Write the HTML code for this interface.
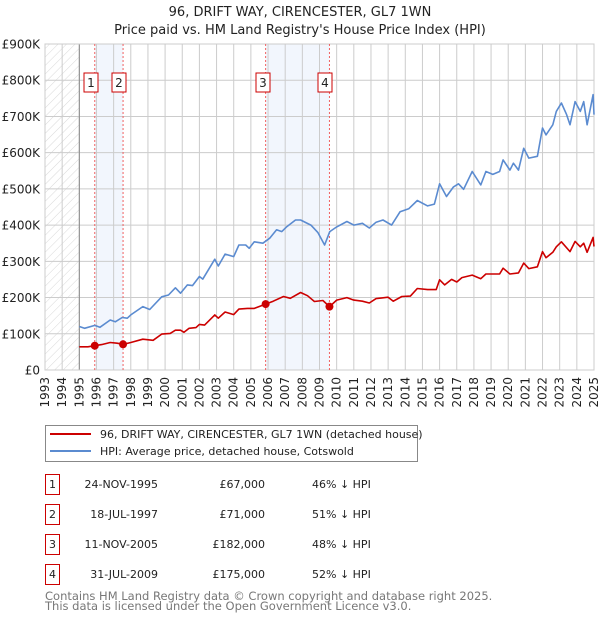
<!DOCTYPE html>
<html><head><meta charset="utf-8"><style>
body{margin:0;background:#fff;font-family:"Liberation Sans","DejaVu Sans",sans-serif;}
#wrap{position:relative;width:600px;height:620px;overflow:hidden;}
svg text{font-family:"DejaVu Sans","Liberation Sans",sans-serif;}
</style></head><body><div id="wrap">
<svg id="svg" width="600" height="620"></svg>
</div>
<script>
const hpiYears=[1995.0,1995.3,1995.9,1996.2,1996.8,1997.1,1997.5,1997.8,1998.0,1998.7,1999.1,1999.8,2000.2,2000.6,2000.9,2001.3,2001.6,2002.0,2002.2,2002.9,2003.1,2003.5,2004.0,2004.3,2004.7,2004.9,2005.2,2005.7,2006.1,2006.5,2006.8,2007.1,2007.6,2007.9,2008.5,2008.9,2009.3,2009.6,2010.0,2010.6,2011.0,2011.5,2011.9,2012.3,2012.7,2013.2,2013.7,2014.2,2014.7,2015.3,2015.7,2016.0,2016.4,2016.8,2017.1,2017.4,2017.9,2018.4,2018.7,2019.1,2019.5,2019.7,2020.1,2020.3,2020.6,2020.9,2021.2,2021.7,2022.0,2022.2,2022.6,2022.8,2023.1,2023.4,2023.6,2023.9,2024.2,2024.4,2024.6,2024.95,2025.0];
const hpiValues=[120,115,123,118,138,133,145,143,152,175,167,202,207,227,212,235,233,258,251,306,287,320,313,345,345,336,354,350,364,387,382,396,414,414,400,380,345,382,395,410,400,405,392,408,414,400,437,445,468,453,458,514,479,505,514,499,548,511,548,540,548,580,552,571,552,612,585,590,668,649,677,714,737,705,677,741,714,741,677,760,705];
const paidYears=[1995.0,1995.5,1995.9,1996.3,1996.8,1997.2,1997.55,1998.0,1998.7,1999.3,1999.8,2000.3,2000.6,2000.9,2001.1,2001.4,2001.8,2002.0,2002.3,2002.9,2003.1,2003.5,2004.0,2004.3,2004.8,2005.2,2005.86,2006.3,2006.9,2007.3,2007.9,2008.3,2008.7,2009.2,2009.58,2010.0,2010.6,2011.0,2011.5,2011.9,2012.3,2013.0,2013.3,2013.8,2014.3,2014.7,2015.3,2015.8,2016.0,2016.3,2016.7,2017.0,2017.3,2017.9,2018.4,2018.7,2019.5,2019.7,2020.1,2020.6,2020.9,2021.2,2021.7,2022.0,2022.2,2022.6,2022.8,2023.1,2023.6,2023.9,2024.2,2024.4,2024.6,2024.95,2025.0];
const paidValues=[64,64,67,70,76,74,71,76,85,82,99,101,110,110,104,115,117,126,124,152,143,160,153,168,170,170,182,190,203,198,214,205,189,192,175,193,200,193,190,185,197,201,190,203,204,225,222,222,249,235,250,243,255,262,252,265,265,281,265,268,295,280,285,327,310,325,340,354,327,355,340,350,325,366,341];
const saleYears=[1995.9,1997.55,2005.86,2009.58];
const saleValues=[67,71,182,175];
const saleLabels=["1","2","3","4"];
const saleDates=["24-NOV-1995","18-JUL-1997","11-NOV-2005","31-JUL-2009"];
const salePrices=["£67,000","£71,000","£182,000","£175,000"];
const saleDiffs=["46% ↓ HPI","51% ↓ HPI","48% ↓ HPI","52% ↓ HPI"];
const yTicks=[0,100,200,300,400,500,600,700,800,900];
const yTickLabels=["£0","£100K","£200K","£300K","£400K","£500K","£600K","£700K","£800K","£900K"];

const X0=45,X1=594,Y0=370,Y1=44,YR0=1993,YR1=2025;
const xs=y=>X0+(y-YR0)/(YR1-YR0)*(X1-X0);
const ys=v=>Y0-v/900*(Y0-Y1);
const svg=document.getElementById('svg');
const NS='http://www.w3.org/2000/svg';
function mk(tag,at,parent){const e=document.createElementNS(NS,tag);for(const k in at)e.setAttribute(k,at[k]);(parent||svg).appendChild(e);return e;}

let t=mk('text',{x:300,y:16,'text-anchor':'middle','font-size':13,fill:'#222'});t.textContent='96, DRIFT WAY, CIRENCESTER, GL7 1WN';


t=mk('text',{x:300,y:34,'text-anchor':'middle','font-size':13,fill:'#222'});t.textContent="Price paid vs. HM Land Registry's House Price Index (HPI)";



const defs=mk('defs',{});
const pat=mk('pattern',{id:'hatch',width:6,height:6,patternUnits:'userSpaceOnUse',patternTransform:'rotate(45)'},defs);
mk('line',{x1:0,y1:0,x2:0,y2:6,stroke:'#d8d8d8','stroke-width':1},pat);
let r=mk('rect',{x:X0,y:Y1,width:xs(1995)-X0,height:Y0-Y1,fill:'url(#hatch)'});


[[0,1],[2,3]].forEach(p=>{const s=mk('rect',{x:xs(saleYears[p[0]]),y:Y1,width:xs(saleYears[p[1]])-xs(saleYears[p[0]]),height:Y0-Y1,fill:'#f2f6fd'});

});
for(let y=YR0;y<=YR1;y++){const l=mk('line',{x1:xs(y),x2:xs(y),y1:Y1,y2:Y0,stroke:'#ccc','stroke-width':1});


const tx=xs(y)+4;const lb=mk('text',{x:tx,y:377,'font-size':12,fill:'#222','text-anchor':'end',transform:`rotate(-90 ${tx} 377)`});lb.textContent=y;

}
yTicks.forEach((v,i)=>{const l=mk('line',{x1:X0,x2:X1,y1:ys(v),y2:ys(v),stroke:'#ccc','stroke-width':1});


const lb=mk('text',{x:40,y:ys(v)+4.5,'font-size':12,fill:'#222','text-anchor':'end'});lb.textContent=yTickLabels[i];

});
mk('line',{x1:xs(1995),x2:xs(1995),y1:Y1,y2:Y0,stroke:'#888','stroke-width':1});
r=mk('rect',{x:X0,y:Y1,width:X1-X0,height:Y0-Y1,fill:'none',stroke:'#ccc'});
saleYears.forEach((y,i)=>{const l=mk('line',{x1:xs(y),x2:xs(y),y1:Y1,y2:Y0,stroke:'#f06060','stroke-width':1,'stroke-dasharray':'2,2'});


});
const line=(xa,va,col,name)=>{const p=mk('polyline',{points:xa.map((y,i)=>xs(y).toFixed(1)+','+ys(va[i]).toFixed(1)).join(' '),fill:'none',stroke:col,'stroke-width':1.6,'stroke-linejoin':'round'});

};
line(hpiYears,hpiValues,'#5b8bd0','hpi-line');
line(paidYears,paidValues,'#cc0000','price-paid-line');
saleYears.forEach((y,i)=>{const c=mk('circle',{cx:xs(y),cy:ys(saleValues[i]),r:4,fill:'#cc0000'});


const bxs=[84,112,256,318];
const g=mk('g',{});


mk('rect',{x:bxs[i],y:73,width:14,height:19,fill:'#fff',stroke:'#cc0000','stroke-width':1},g);
const tt=mk('text',{x:bxs[i]+7,y:87,'text-anchor':'middle','font-size':12,fill:'#222'},g);tt.textContent=saleLabels[i];});

const lg=mk('g',{});


mk('rect',{x:45.5,y:425.5,width:372,height:36,fill:'#fff',stroke:'#888'},lg);
mk('line',{x1:50,x2:91,y1:434,y2:434,stroke:'#cc0000','stroke-width':2},lg);
mk('line',{x1:50,x2:91,y1:451,y2:451,stroke:'#5b8bd0','stroke-width':2},lg);
t=mk('text',{x:100,y:438,'font-size':11,fill:'#222'},lg);t.textContent='96, DRIFT WAY, CIRENCESTER, GL7 1WN (detached house)';
t=mk('text',{x:100,y:455,'font-size':11,fill:'#222'},lg);t.textContent='HPI: Average price, detached house, Cotswold';

saleLabels.forEach((s,i)=>{const y=483+i*30;const g=mk('g',{});


mk('rect',{x:45.5,y:y-8.5,width:14,height:20,fill:'#fff',stroke:'#cc0000'},g);
let a=mk('text',{x:52.5,y:y+5,'text-anchor':'middle','font-size':11,fill:'#222'},g);a.textContent=s;
a=mk('text',{x:158,y:y+5,'text-anchor':'end','font-size':11,fill:'#222'},g);a.textContent=saleDates[i];
a=mk('text',{x:265,y:y+5,'text-anchor':'end','font-size':11,fill:'#222'},g);a.textContent=salePrices[i];
a=mk('text',{x:312,y:y+5,'font-size':11,fill:'#222'},g);a.textContent=saleDiffs[i];});
t=mk('text',{x:45,y:600,'font-size':11.5,fill:'#777'});t.textContent='Contains HM Land Registry data © Crown copyright and database right 2025.';


t=mk('text',{x:45,y:610,'font-size':11.5,fill:'#777'});t.textContent='This data is licensed under the Open Government Licence v3.0.';


</script></body></html>
